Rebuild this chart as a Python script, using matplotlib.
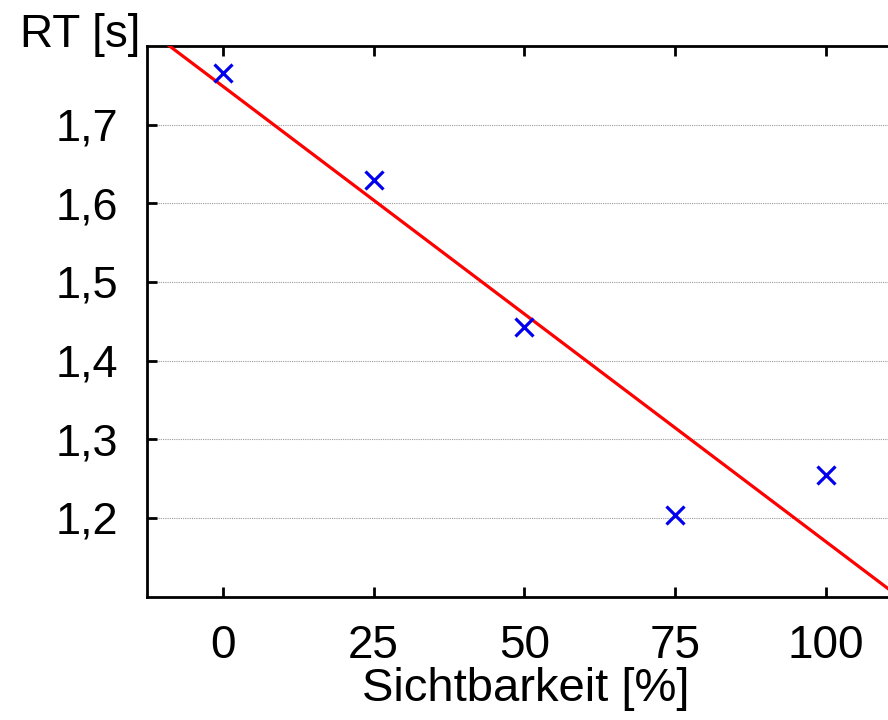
import numpy as np
import matplotlib
matplotlib.use("Agg")
import matplotlib.pyplot as plt

plt.rcParams['font.family'] = ['Liberation Sans', 'DejaVu Sans']

# Reaction time per visibility level
visibility = [0, 25, 50, 75, 100]
rt_seconds = [1.766, 1.629, 1.443, 1.204, 1.255]

x_ticks = [0, 25, 50, 75, 100]
x_tick_labels = ['0', '25', '50', '75', '100']
y_ticks = [1.2, 1.3, 1.4, 1.5, 1.6, 1.7]
y_tick_labels = ['1,2', '1,3', '1,4', '1,5', '1,6', '1,7']

x_label = 'Sichtbarkeit [%]'
y_label = 'RT [s]'

fig = plt.figure(figsize=(8.88, 7.2), dpi=100)
ax = fig.add_axes([0.1661, 0.1715, 0.8485, 0.7646])

# least-squares regression line over the full x range
slope, intercept = np.polyfit(visibility, rt_seconds, 1)
xlim = (-12.5, 112.5)
xs = np.array(xlim)
ax.plot(xs, slope * xs + intercept, color='#ff0000', lw=2.3, zorder=3)

ax.plot(visibility, rt_seconds, linestyle='none', marker='x', color='#0000ee',
        markersize=12.5, markeredgewidth=2.3, zorder=4)

ax.set_xlim(*xlim)
ax.set_ylim(1.1, 1.8)
ax.set_xticks(x_ticks)
ax.set_xticklabels(x_tick_labels)
ax.set_yticks(y_ticks)
ax.set_yticklabels(y_tick_labels)

ax.yaxis.grid(True, linestyle=(0, (1, 1)), color='#999999', linewidth=0.8)
ax.set_axisbelow(True)

ax.tick_params(axis='both', direction='in', length=7, width=2,
               top=True, right=True, colors='black')
ax.tick_params(axis='x', pad=20, labelsize=33)
ax.tick_params(axis='y', pad=21, labelsize=32.5)

for side in ['left', 'bottom', 'top', 'right']:
    ax.spines[side].set_linewidth(2)
    ax.spines[side].set_color('black')

fig.text(140 / 888, 1 - 47 / 720, y_label, fontsize=33, ha='right', va='baseline')
fig.text(526 / 888, 1 - 701 / 720, x_label, fontsize=34, ha='center', va='baseline')

fig.savefig('out.png', dpi=100, facecolor='white')
